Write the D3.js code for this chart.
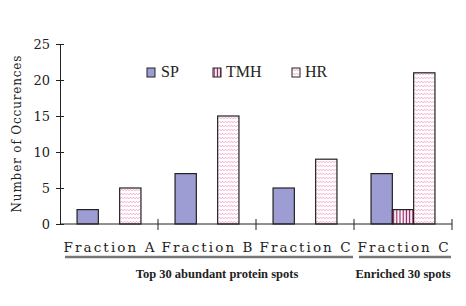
<!DOCTYPE html>
<html>
<head>
<meta charset="utf-8">
<script src="https://cdn.jsdelivr.net/npm/d3@7"></script>
<style>
  html, body { margin: 0; padding: 0; background: #fff; }
  svg { display: block; }
</style>
</head>
<body>
<div id="chart"></div>
<script>
// data
var groupLabels = ['Fraction A', 'Fraction B', 'Fraction C', 'Fraction C'];
var seriesNames = ['SP', 'TMH', 'HR'];
var spValues = [2, 7, 5, 7];
var tmhValues = [0, 0, 0, 2];
var hrValues = [5, 15, 9, 21];
var yTicks = [0, 5, 10, 15, 20, 25];
var sectionLabels = ['Top 30 abundant protein spots', 'Enriched 30 spots'];
var sectionFirst = [0, 3],
  sectionLast = [2, 3];

var width = 466,
  height = 306;

var svg = d3
  .select('#chart')
  .append('svg')
  .attr('width', width)
  .attr('height', height);

// patterns
var defs = svg.append('defs');
var wave = defs
  .append('pattern')
  .attr('id', 'wave')
  .attr('patternUnits', 'userSpaceOnUse')
  .attr('width', 6)
  .attr('height', 4);
wave.append('rect').attr('width', 6).attr('height', 4).attr('fill', '#fff');
wave
  .append('path')
  .attr('d', 'M0,2.8 L1.5,1.2 L3,2.8 L4.5,1.2 L6,2.8')
  .attr('fill', 'none')
  .attr('stroke', '#f5a6cb')
  .attr('stroke-width', 1);

var stripes = defs
  .append('pattern')
  .attr('id', 'stripes')
  .attr('patternUnits', 'userSpaceOnUse')
  .attr('width', 3.2)
  .attr('height', 4);
stripes.append('rect').attr('width', 3.2).attr('height', 4).attr('fill', '#fff');
stripes
  .append('rect')
  .attr('x', 0.6)
  .attr('width', 1.2)
  .attr('height', 4)
  .attr('fill', '#8f1559');

var fills = { SP: '#9d9dd4', TMH: 'url(#stripes)', HR: 'url(#wave)' };

var values = { SP: spValues, TMH: tmhValues, HR: hrValues };

// scales
var x0 = d3
  .scaleBand()
  .domain(d3.range(groupLabels.length))
  .range([60, 452])
  .padding(0);

var x1 = d3
  .scaleBand()
  .domain(seriesNames)
  .range([0, x0.bandwidth()])
  .paddingInner(0)
  .paddingOuter(0.8);

var y = d3.scaleLinear().domain([0, 25]).range([224, 44]);

// y axis
var yAxis = svg
  .append('g')
  .attr('transform', 'translate(60,0)')
  .call(
    d3.axisLeft(y).tickValues(yTicks).tickSize(4).tickSizeOuter(0).tickPadding(6)
  );
yAxis.select('.domain').attr('stroke', '#222');
yAxis.selectAll('.tick line').attr('x1', -4).attr('x2', 4).attr('stroke', '#222');
yAxis
  .selectAll('.tick text')
  .style('font-family', 'DejaVu Serif, serif')
  .style('font-size', '13px')
  .attr('fill', '#222');

svg
  .append('text')
  .attr('transform', 'translate(21,' + (y(0) + y(25)) / 2 + ') rotate(-90)')
  .attr('text-anchor', 'middle')
  .attr('textLength', 157)
  .attr('lengthAdjust', 'spacing')
  .style('font-family', 'DejaVu Serif, serif')
  .style('font-size', '12px')
  .attr('fill', '#222')
  .text('Number of Occurences');

// bars
var groups = svg
  .selectAll('.grp')
  .data(d3.range(groupLabels.length))
  .enter()
  .append('g')
  .attr('class', 'grp')
  .attr('transform', function (i) {
    return 'translate(' + x0(i) + ',0)';
  });

groups
  .selectAll('rect')
  .data(function (i) {
    return seriesNames
      .map(function (s) {
        return { key: s, value: values[s][i] };
      })
      .filter(function (d) {
        return d.value > 0;
      });
  })
  .enter()
  .append('rect')
  .attr('x', function (d) {
    return x1(d.key);
  })
  .attr('y', function (d) {
    return y(d.value);
  })
  .attr('width', x1.bandwidth())
  .attr('height', function (d) {
    return y(0) - y(d.value);
  })
  .attr('fill', function (d) {
    return fills[d.key];
  })
  .attr('stroke', '#222')
  .attr('stroke-width', 1.2);

// x axis line with group boundary ticks
svg
  .append('line')
  .attr('x1', 60)
  .attr('x2', 452)
  .attr('y1', y(0))
  .attr('y2', y(0))
  .attr('stroke', '#222');

svg
  .selectAll('.xtick')
  .data(d3.range(groupLabels.length))
  .enter()
  .append('line')
  .attr('x1', function (i) {
    return x0(i) + x0.bandwidth();
  })
  .attr('x2', function (i) {
    return x0(i) + x0.bandwidth();
  })
  .attr('y1', y(0) - 5)
  .attr('y2', y(0) + 6)
  .attr('stroke', '#222');

// group labels
svg
  .selectAll('.glabel')
  .data(groupLabels)
  .enter()
  .append('text')
  .attr('x', function (d, i) {
    return x0(i) + x0.bandwidth() / 2;
  })
  .attr('y', 252)
  .attr('text-anchor', 'middle')
  .attr('textLength', 91)
  .attr('lengthAdjust', 'spacing')
  .style('font-family', 'DejaVu Serif, serif')
  .style('font-size', '13.5px')
  .attr('fill', '#222')
  .text(function (d) {
    return d;
  });

// section underlines and labels
sectionLabels.forEach(function (lab, k) {
  var xa = x0(sectionFirst[k]) + 5,
    xb = x0(sectionLast[k]) + x0.bandwidth() - 1;
  svg
    .append('line')
    .attr('x1', xa)
    .attr('x2', xb)
    .attr('y1', 257)
    .attr('y2', 257)
    .attr('stroke', '#777')
    .attr('stroke-width', 2.5);
  svg
    .append('text')
    .attr('x', k === 0 ? 217 : 403)
    .attr('y', 278)
    .attr('text-anchor', 'middle')
    .style('font-family', 'Liberation Serif, serif')
    .style('font-size', '12.5px')
    .style('font-weight', 'bold')
    .attr('fill', '#222')
    .text(lab);
});

// legend
var legendX = [147, 213, 292];
var legend = svg
  .selectAll('.legend')
  .data(seriesNames)
  .enter()
  .append('g')
  .attr('transform', function (d, i) {
    return 'translate(' + legendX[i] + ',68)';
  });
legend
  .append('rect')
  .attr('width', 8)
  .attr('height', 9)
  .attr('fill', function (d) {
    return fills[d];
  })
  .attr('stroke', '#222');
legend
  .append('text')
  .attr('x', function (d) {
    return d === 'SP' ? 14 : 13;
  })
  .attr('y', 9)
  .style('font-family', 'Liberation Serif, serif')
  .style('font-size', '16px')
  .attr('fill', '#222')
  .text(function (d) {
    return d;
  });
</script>
</body>
</html>
